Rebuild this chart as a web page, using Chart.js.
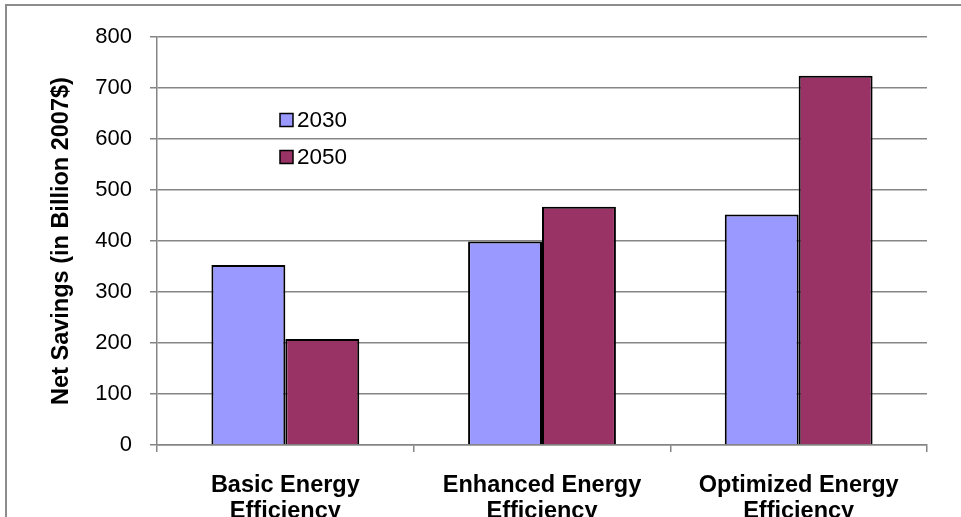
<!DOCTYPE html>
<html>
<head>
<meta charset="utf-8">
<script src="https://cdn.jsdelivr.net/npm/chart.js@4/dist/chart.umd.min.js"></script>
<style>
  html, body { margin: 0; padding: 0; background: #fff; overflow: hidden; width: 961px; height: 517px; }
  #frame { position: absolute; left: 5px; top: 4px; width: 1000px; height: 600px; border: 2px solid #8c8c8c; box-sizing: border-box; }
  #wrap { position: absolute; left: 0; top: 0; width: 961px; height: 560px; }
</style>
</head>
<body>
<div id="frame"></div>
<div id="wrap"><canvas id="c" width="961" height="560"></canvas></div>
<script>
// Net savings by efficiency scenario (billion 2007 dollars)
const categories = [["Basic Energy", "Efficiency"], ["Enhanced Energy", "Efficiency"], ["Optimized Energy", "Efficiency"]];
const seriesNames = ["2030", "2050"];
const savings2030 = [353, 399, 452];
const savings2050 = [208, 467, 724];
const yTicks = [0, 100, 200, 300, 400, 500, 600, 700, 800];

const FONT = 'Arial, "Liberation Sans", sans-serif';
const GRID = '#858585';

// Legend drawn inside the plot area as a small stacked list
const innerLegend = {
  id: 'innerLegend',
  afterDraw(chart) {
    const ctx = chart.ctx;
    const x = 280, y0 = 120, step = 37, box = 13;
    ctx.save();
    ctx.font = '22.5px ' + FONT;
    ctx.textBaseline = 'middle';
    ctx.textAlign = 'left';
    chart.data.datasets.forEach((ds, i) => {
      const cy = y0 + i * step;
      ctx.fillStyle = ds.backgroundColor;
      ctx.fillRect(x, cy - box / 2, box, box);
      ctx.lineWidth = 1.5;
      ctx.strokeStyle = '#000';
      ctx.strokeRect(x, cy - box / 2, box, box);
      ctx.fillStyle = '#000';
      ctx.fillText(ds.label, x + box + 4, cy + 1);
    });
    ctx.restore();
  }
};

new Chart(document.getElementById('c'), {
  type: 'bar',
  data: {
    labels: categories,
    datasets: [
      { label: seriesNames[0], data: savings2030, backgroundColor: '#9999FF', borderColor: '#000', borderWidth: 2,
        categoryPercentage: 0.576, barPercentage: 1.0 },
      { label: seriesNames[1], data: savings2050, backgroundColor: '#993366', borderColor: '#000', borderWidth: 2,
        categoryPercentage: 0.576, barPercentage: 1.0 }
    ]
  },
  options: {
    responsive: false,
    animation: false,
    devicePixelRatio: 1,
    layout: { padding: { left: 0, top: 37, right: 34, bottom: 0 } },
    plugins: { legend: { display: false }, tooltip: { enabled: false } },
    scales: {
      x: {
        grid: { offset: true, drawOnChartArea: false, color: GRID, lineWidth: 1.5, tickLength: 7 },
        border: { color: GRID, width: 1.5 },
        ticks: { color: '#000', padding: 21, maxRotation: 0, autoSkip: false,
                 font: { family: FONT, size: 23.5, weight: 'bold', lineHeight: 1.1 } },
        afterFit(scale) { scale.height = 115; }
      },
      y: {
        min: 0, max: 800,
        afterBuildTicks(scale) { scale.ticks = yTicks.map(v => ({ value: v })); },
        grid: { color: GRID, lineWidth: 1.5, tickLength: 7 },
        border: { color: GRID, width: 1.5 },
        ticks: { color: '#000', padding: 18, font: { family: FONT, size: 22 } },
        title: { display: true, text: 'Net Savings (in Billion 2007$)', color: '#000',
                 padding: { top: 47, bottom: 0 },
                 font: { family: FONT, size: 23.5, weight: 'bold', lineHeight: 1.2 } },
        afterFit(scale) { scale.width = 157; }
      }
    }
  },
  plugins: [innerLegend]
});
</script>
</body>
</html>
